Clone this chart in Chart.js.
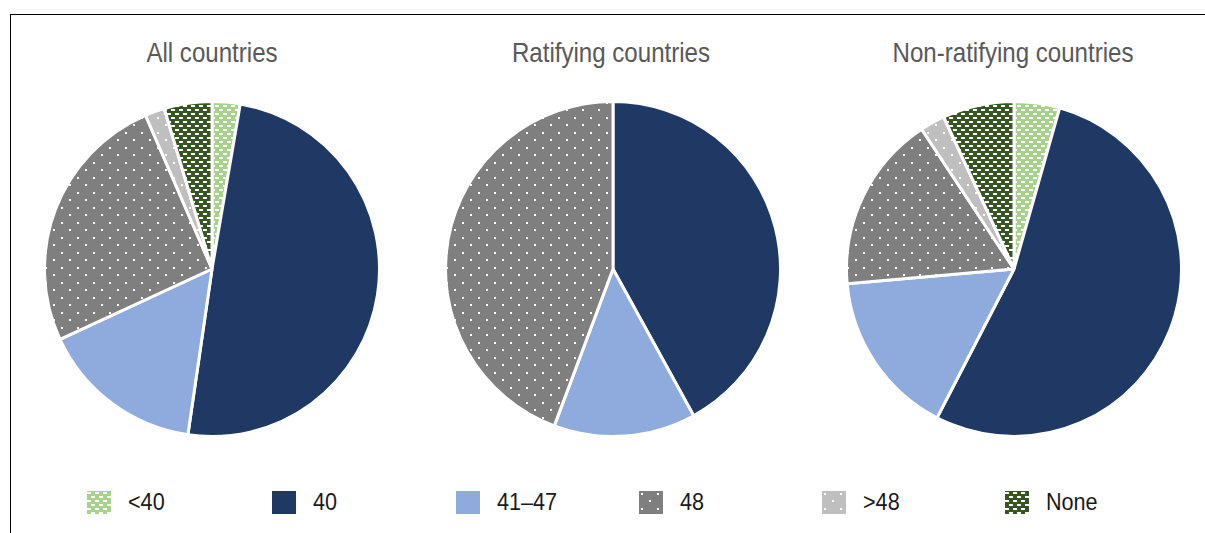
<!DOCTYPE html>
<html>
<head>
<meta charset="utf-8">
<script src="https://cdn.jsdelivr.net/npm/chart.js@4.4.1/dist/chart.umd.min.js"></script>
<style>
  html, body { margin: 0; padding: 0; background: #fff; }
  body { width: 1205px; height: 533px; position: relative; overflow: hidden; font-family: "Liberation Sans", Arial, sans-serif; }
  #frame { position: absolute; left: 10px; top: 14px; width: 1200px; height: 540px; border-left: 1.5px solid #000; border-top: 1.5px solid #000; }
  .pie { position: absolute; top: 100px; width: 338px; height: 338px; }
  .title { position: absolute; top: 39px; width: 400px; height: 28px; line-height: 28px; font-size: 28px; color: #595959; text-align: center; transform: scaleX(0.86); white-space: nowrap; }
  #legend { position: absolute; left: 0; top: 488px; width: 1205px; height: 30px; }
  .item { position: absolute; top: 0; height: 28px; display: flex; align-items: center; }
  .item canvas { width: 24px; height: 23px; display: block; }
  .item span { margin-left: 17px; font-size: 24px; color: #1a1a1a; display: inline-block; transform: scaleX(0.9); transform-origin: left center; }
</style>
</head>
<body>
<div id="frame"></div>
<div class="title" id="t1" style="left:11.5px"></div>
<div class="title" id="t2" style="left:410.5px"></div>
<div class="title" id="t3" style="left:813px"></div>
<div class="pie" style="left:42.5px"><canvas id="c1"></canvas></div>
<div class="pie" style="left:444px"><canvas id="c2"></canvas></div>
<div class="pie" style="left:844.5px"><canvas id="c3"></canvas></div>
<div id="legend"></div>
<script>
// ---- data ----
const categories = ["<40", "40", "41\u201347", "48", ">48", "None"];
const titles = ["All countries", "Ratifying countries", "Non-ratifying countries"];
const allCountries = [2.7, 49.6, 15.8, 25.4, 1.9, 4.6];
const ratifyingCountries = [0, 42.0, 13.7, 44.3, 0, 0];
const nonRatifyingCountries = [4.4, 53.2, 16.0, 17.1, 2.4, 6.9];
const legendX = [87, 272, 456, 639, 822, 1005];

// ---- patterns ----
function brick(bg) {
  const t = document.createElement('canvas');
  t.width = 8; t.height = 8;
  const g = t.getContext('2d');
  g.fillStyle = bg; g.fillRect(0, 0, 8, 8);
  g.fillStyle = '#ffffff';
  g.fillRect(0, 1, 4, 2);
  g.fillRect(4, 5, 4, 2);
  return t;
}
function dots(bg) {
  const t = document.createElement('canvas');
  t.width = 16; t.height = 15;
  const g = t.getContext('2d');
  g.fillStyle = bg; g.fillRect(0, 0, 16, 15);
  g.fillStyle = '#ffffff';
  g.fillRect(2, 2, 2, 2);
  g.fillRect(10, 9, 2, 2);
  return t;
}
const tiles = [brick('#a9d18e'), null, null, dots('#7f7f7f'), dots('#bfbfbf'), brick('#375623')];
const solids = [null, '#1f3864', '#8faadc', null, null, null];
function fills(ctx) {
  return tiles.map((t, i) => t ? ctx.createPattern(t, 'repeat') : solids[i]);
}

// ---- charts ----
const datasets = [allCountries, ratifyingCountries, nonRatifyingCountries];
["c1", "c2", "c3"].forEach((id, k) => {
  document.getElementById('t' + (k + 1)).textContent = titles[k];
  const cv = document.getElementById(id);
  const ctx = cv.getContext('2d');
  new Chart(cv, {
    type: 'pie',
    data: {
      labels: categories,
      datasets: [{
        data: datasets[k],
        backgroundColor: fills(ctx),
        borderColor: '#ffffff',
        borderWidth: 3
      }]
    },
    options: {
      responsive: true,
      maintainAspectRatio: false,
      animation: false,
      rotation: 0,
      layout: { padding: 0 },
      plugins: {
        legend: { display: false },
        tooltip: { enabled: false },
        title: { display: false }
      }
    }
  });
});

// ---- legend ----
const lg = document.getElementById('legend');
categories.forEach((c, i) => {
  const d = document.createElement('div');
  d.className = 'item';
  d.style.left = legendX[i] + 'px';
  const sw = document.createElement('canvas');
  sw.width = 24; sw.height = 23;
  const g = sw.getContext('2d');
  g.fillStyle = tiles[i] ? g.createPattern(tiles[i], 'repeat') : solids[i];
  g.fillRect(0, 0, 24, 23);
  const s = document.createElement('span');
  s.textContent = c;
  d.appendChild(sw); d.appendChild(s);
  lg.appendChild(d);
});
</script>
</body>
</html>
